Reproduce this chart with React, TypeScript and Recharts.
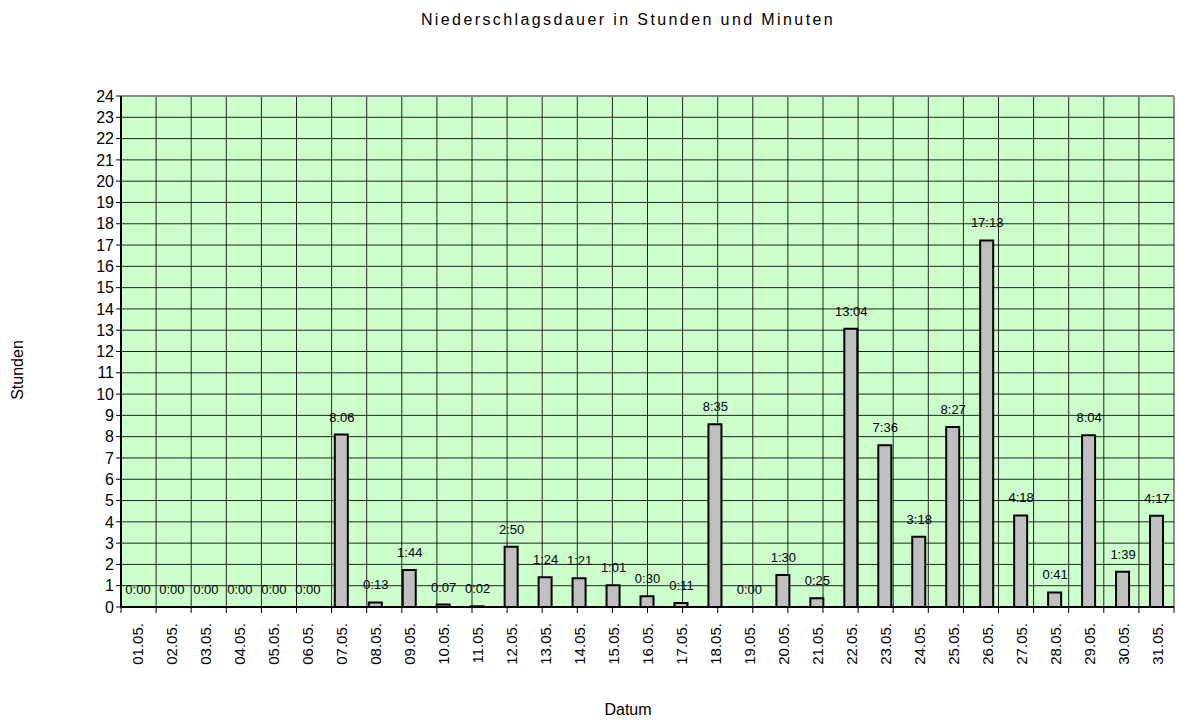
import React from 'react';
import {
  ComposedChart, Bar, Line, XAxis, YAxis, CartesianGrid, LabelList, ReferenceLine
} from 'recharts';

// Niederschlagsdauer pro Tag (Mai), in Minuten
const DAYS = [
  '01.05.', '02.05.', '03.05.', '04.05.', '05.05.', '06.05.', '07.05.', '08.05.',
  '09.05.', '10.05.', '11.05.', '12.05.', '13.05.', '14.05.', '15.05.', '16.05.',
  '17.05.', '18.05.', '19.05.', '20.05.', '21.05.', '22.05.', '23.05.', '24.05.',
  '25.05.', '26.05.', '27.05.', '28.05.', '29.05.', '30.05.', '31.05.',
];
const MINUTES = [
  0, 0, 0, 0, 0, 0, 486, 13,
  104, 7, 2, 170, 84, 81, 61, 30,
  11, 515, 0, 90, 25, 784, 456, 198,
  507, 1033, 258, 41, 484, 99, 257,
];
const Y_TICKS = [0, 1, 2, 3, 4, 5, 6, 7, 8, 9, 10, 11, 12, 13, 14, 15, 16, 17, 18, 19, 20, 21, 22, 23, 24];

const FONT = '"Liberation Sans", Arial, sans-serif';

const fmt = (m: number) => `${Math.floor(m / 60)}:${String(m % 60).padStart(2, '0')}`;

const data = DAYS.map((day, i) => ({
  day,
  hours: MINUTES[i] / 60,
  label: fmt(MINUTES[i]),
}));

// grid axis ticks sit on the category boundaries
const GRID_TICKS = DAYS.map((_, i) => i).concat(DAYS.length);

const DayTick = ({ x, y, payload }: any) => (
  <text
    x={x}
    y={y}
    transform={`rotate(-90, ${x}, ${y})`}
    textAnchor="end"
    dominantBaseline="central"
    fontSize={15}
    fontFamily={FONT}
    fill="#000"
  >
    {payload.value}
  </text>
);

export default function App() {
  return (
    <div style={{ position: 'relative', width: 1181, height: 720, fontFamily: FONT, background: '#fff' }}>
      <style>{`body{margin:0}`}</style>
      <div style={{ position: 'absolute', left: 0, width: 1256, top: 11, textAlign: 'center', fontSize: 16, letterSpacing: 2.4, color: '#000' }}>
        Niederschlagsdauer in Stunden und Minuten
      </div>
      <div style={{ position: 'absolute', left: 18, top: 370, transform: 'translate(-50%, -50%) rotate(-90deg)', fontSize: 16, color: '#000', whiteSpace: 'nowrap' }}>
        Stunden
      </div>
      <div style={{ position: 'absolute', left: 628, top: 710, transform: 'translate(-50%, -50%)', fontSize: 16, color: '#000' }}>
        Datum
      </div>
      <ComposedChart
        width={1181}
        height={720}
        data={data}
        margin={{ top: 96, right: 7, bottom: 0, left: 0 }}
        barSize={13}
      >
        <XAxis
          xAxisId="b_cat"
          dataKey="day"
          interval={0}
          height={105}
          tickLine={false}
          axisLine={false}
          tick={<DayTick />}
        />
        <XAxis
          xAxisId="a_grid"
          type="number"
          domain={[0, DAYS.length]}
          ticks={GRID_TICKS}
          interval={0}
          height={8}
          tickSize={6}
          tick={() => <g />}
          axisLine={{ stroke: '#000', strokeWidth: 2 }}
          tickLine={{ stroke: '#000' }}
        />
        <YAxis
          domain={[0, 24]}
          ticks={Y_TICKS}
          interval={0}
          width={121}
          tickSize={5}
          axisLine={{ stroke: '#000', strokeWidth: 2 }}
          tickLine={{ stroke: '#000' }}
          tick={{ fontSize: 16, fill: '#000', fontFamily: FONT }}
        />
        <CartesianGrid xAxisId="a_grid" stroke="#000" fill="#CCFFCC" strokeOpacity={0.85} />
        <ReferenceLine y={24} xAxisId="a_grid" stroke="#888" strokeWidth={2} />
        <ReferenceLine x={DAYS.length} xAxisId="a_grid" stroke="#888" strokeWidth={1} />
        <Bar
          dataKey="hours"
          xAxisId="b_cat"
          fill="#C0C0C0"
          stroke="#000"
          strokeWidth={2}
          isAnimationActive={false}
        />
        <Line
          dataKey="hours"
          xAxisId="b_cat"
          stroke="none"
          dot={false}
          activeDot={false}
          legendType="none"
          isAnimationActive={false}
        >
          <LabelList dataKey="label" position="top" offset={13} fontSize={13} fill="#000" fontFamily={FONT} />
        </Line>
      </ComposedChart>
    </div>
  );
}
